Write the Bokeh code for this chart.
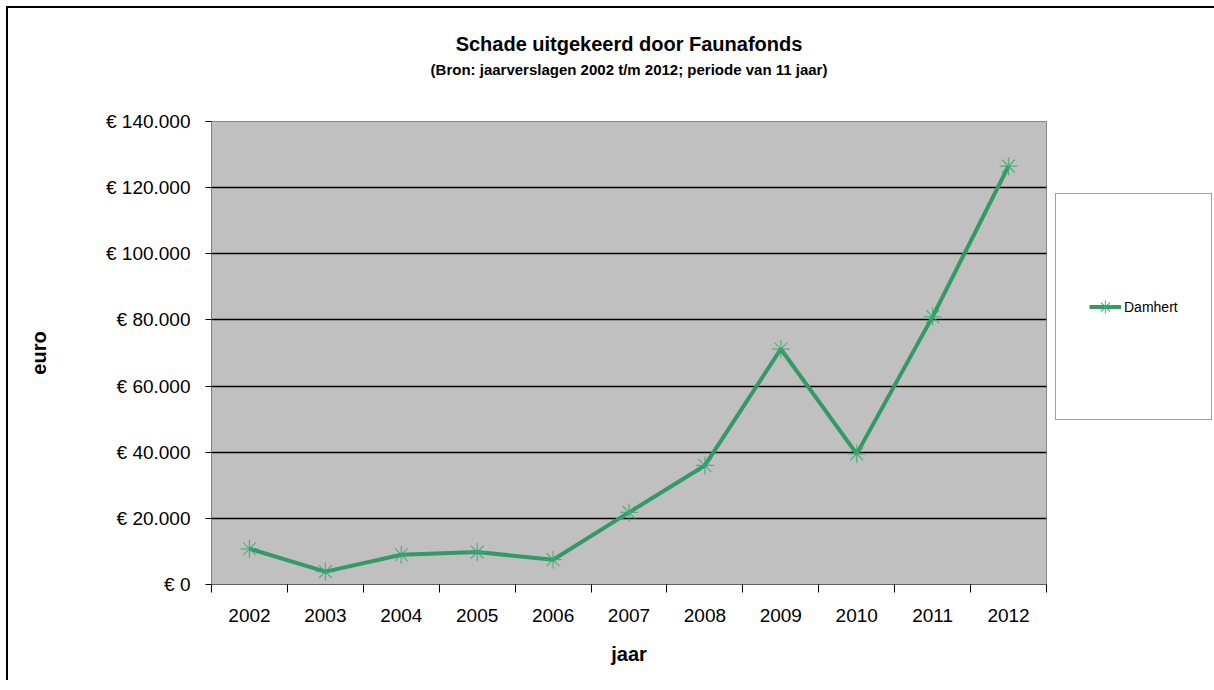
from bokeh.plotting import figure
from bokeh.models import FixedTicker, Title, Legend, LegendItem
from bokeh.embed import file_html
from bokeh.resources import INLINE

# ---- data ----
years = [2002, 2003, 2004, 2005, 2006, 2007, 2008, 2009, 2010, 2011, 2012]
damhert = [10800, 3900, 9000, 9800, 7500, 21800, 36000, 71200, 39500, 81000, 126500]
y_ticks = [0, 20000, 40000, 60000, 80000, 100000, 120000, 140000]
y_tick_labels = ["€ 0", "€ 20.000", "€ 40.000", "€ 60.000", "€ 80.000",
                 "€ 100.000", "€ 120.000", "€ 140.000"]
title_text = "Schade uitgekeerd door Faunafonds"
subtitle_text = "(Bron: jaarverslagen 2002 t/m 2012; periode van 11 jaar)"
series_name = "Damhert"

FONT = "Liberation Sans"
GREEN = "#339966"

p = figure(frame_width=835, frame_height=463, output_backend="svg",
           toolbar_location=None,
           x_range=(years[0] - 0.5, years[-1] + 0.5), y_range=(0, 140000),
           min_border_left=203, min_border_right=0, min_border_top=113,
           min_border_bottom=96, background_fill_color="#C0C0C0",
           border_fill_color="white", outline_line_color="#888888",
           outline_line_width=1)
p.styles = {"margin-left": "6px", "margin-top": "6px",
            "border-left": "2px solid black", "border-top": "2px solid black"}

# titles (first added sits closest to the plot)
p.add_layout(Title(text=" ", text_font=FONT, text_font_size="10px",
                   standoff=28), "above")
p.add_layout(Title(text=subtitle_text, align="center", text_font=FONT,
                   text_font_size="15px", text_font_style="bold",
                   text_color="black", standoff=6), "above")
p.add_layout(Title(text=title_text, align="center", text_font=FONT,
                   text_font_size="20px", text_font_style="bold",
                   text_color="black", standoff=2), "above")

# grid
p.xgrid.grid_line_color = None
p.ygrid.ticker = FixedTicker(ticks=y_ticks)
p.ygrid.grid_line_color = "black"
p.ygrid.grid_line_width = 1.5

# y axis
p.yaxis.ticker = FixedTicker(ticks=y_ticks)
p.yaxis.major_label_overrides = {t: l for t, l in zip(y_ticks, y_tick_labels)}
p.yaxis.major_label_text_font = FONT
p.yaxis.major_label_text_font_size = "19px"
p.yaxis.major_label_text_color = "black"
p.yaxis.major_label_standoff = 15
p.yaxis.major_tick_in = 0
p.yaxis.major_tick_out = 6
p.yaxis.major_tick_line_color = "black"
p.yaxis.minor_tick_line_color = None
p.yaxis.axis_line_color = "#808080"
p.yaxis.axis_label = "euro"
p.yaxis.axis_label_text_font = FONT
p.yaxis.axis_label_text_font_size = "20px"
p.yaxis.axis_label_text_font_style = "bold"
p.yaxis.axis_label_text_color = "black"
p.yaxis.axis_label_standoff = 53

# x axis: labels at categories, tick marks at boundaries
boundaries = [y - 0.5 for y in years] + [years[-1] + 0.5]
p.xaxis.ticker = FixedTicker(ticks=years, minor_ticks=boundaries)
p.xaxis.major_label_overrides = {y: str(y) for y in years}
p.xaxis.major_tick_line_color = None
p.xaxis.minor_tick_in = 0
p.xaxis.minor_tick_out = 8
p.xaxis.minor_tick_line_color = "black"
p.xaxis.major_label_text_font = FONT
p.xaxis.major_label_text_font_size = "19px"
p.xaxis.major_label_text_color = "black"
p.xaxis.major_label_standoff = 16
p.xaxis.axis_line_color = "#606060"
p.xaxis.axis_label = "jaar"
p.xaxis.axis_label_text_font = FONT
p.xaxis.axis_label_text_font_size = "20px"
p.xaxis.axis_label_text_font_style = "bold"
p.xaxis.axis_label_text_color = "black"
p.xaxis.axis_label_standoff = 18

# series
ln = p.line(years, damhert, line_color=GREEN, line_width=4)
mk = p.scatter(years, damhert, marker="asterisk", size=18, line_color="#3aa873",
               line_width=1.2, line_alpha=0.8)

legend = Legend(items=[LegendItem(label=series_name, renderers=[ln, mk])],
                location=(9, 164), padding=33, glyph_height=159, margin=0,
                glyph_width=32, label_standoff=3,
                label_text_font=FONT, label_text_font_size="14px",
                label_text_color="black", border_line_color="#444444",
                border_line_width=1.5, background_fill_color="white",
                background_fill_alpha=1)
p.add_layout(legend, "right")

open("out.html", "w").write(file_html(p, INLINE))
